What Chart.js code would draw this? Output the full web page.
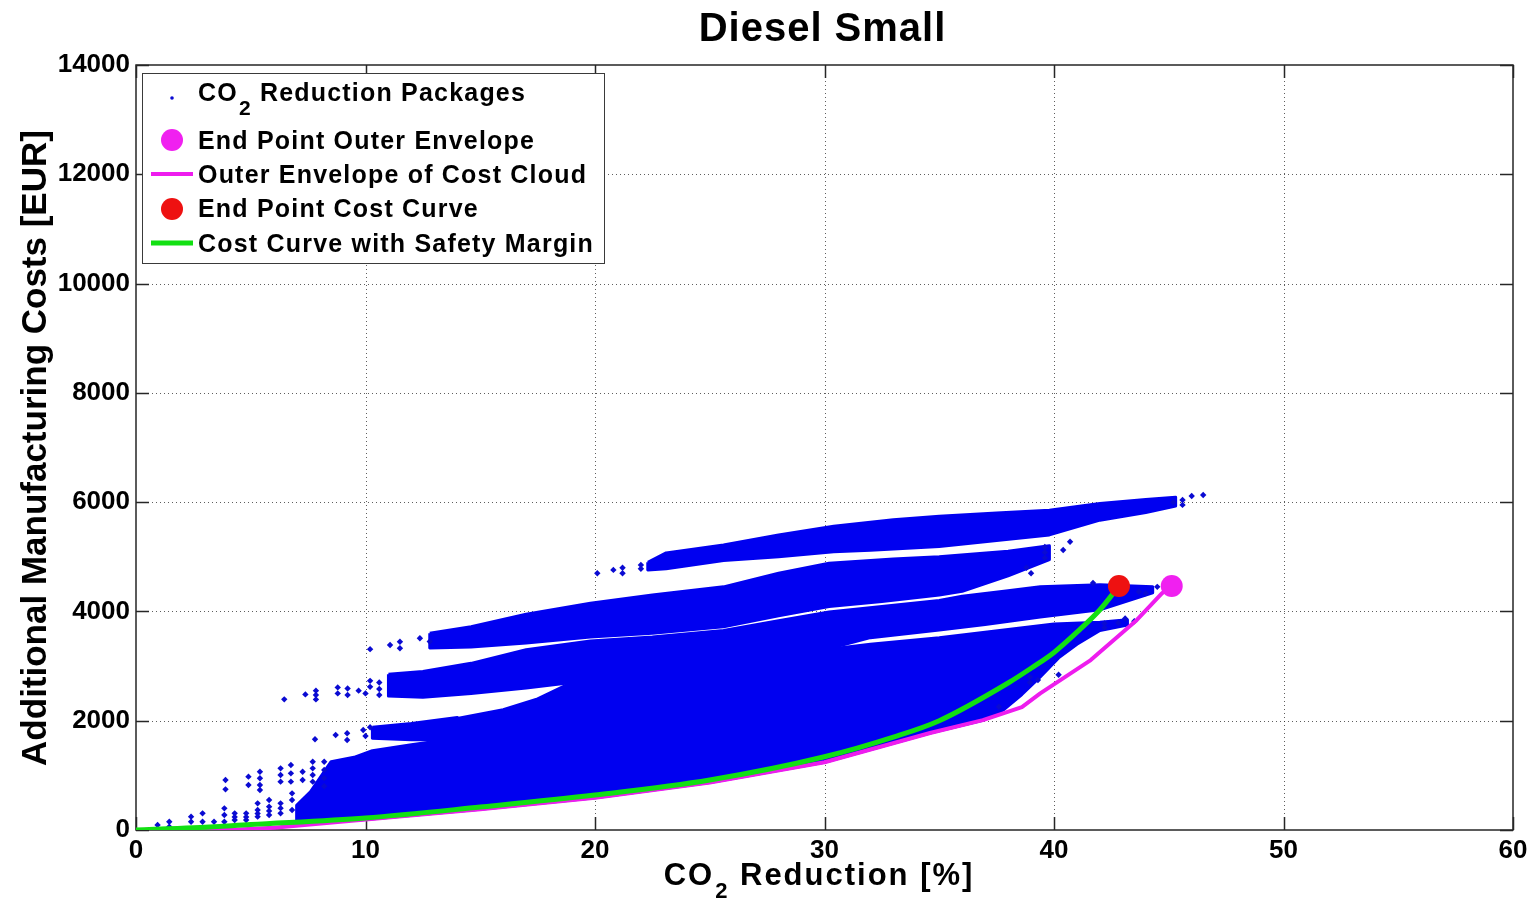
<!DOCTYPE html>
<html>
<head>
<meta charset="utf-8">
<title>Diesel Small</title>
<script src="https://cdn.jsdelivr.net/npm/chart.js@4.4.1/dist/chart.umd.min.js"></script>
<style>
  html, body { margin: 0; padding: 0; background: #ffffff; }
  #costChart { display: block; }
</style>
</head>
<body>
<canvas id="costChart" width="1539" height="911"></canvas>
<script>
// axis ticks
const xTickValues = [0, 10, 20, 30, 40, 50, 60];
const yTickValues = [0, 2000, 4000, 6000, 8000, 10000, 12000, 14000];

// outer envelope of the cost cloud
const envelopeX = [0, 4, 6, 10, 15, 20, 25, 30, 34.6, 36.9, 38.6, 39.4, 41.6, 43.6, 44.7, 45.13];
const envelopeY = [0, 0, 40, 190, 380, 590, 870, 1240, 1775, 2010, 2250, 2500, 3110, 3840, 4330, 4465];

// cost curve with safety margin
const costCurveX = [0, 2.5, 5, 10, 15, 20, 25, 30, 33, 35, 38, 39, 40, 41, 42, 42.83];
const costCurveY = [0, 40, 100, 220, 420, 640, 915, 1340, 1700, 2000, 2690, 2960, 3250, 3620, 4030, 4465];

// end points
const envelopeEnd = [45.13, 4465];
const costCurveEnd = [42.83, 4465];

// dense packages, outlined as bands [x, y]
const bandA = [
  [22.3, 4900], [23.1, 5070], [25.6, 5215], [28, 5400], [30.4, 5560], [33, 5680], [35, 5740],
  [37.5, 5800], [39.8, 5850], [42, 5975], [44, 6050], [45.3, 6090],
  [45.3, 5930], [44, 5810], [42, 5670], [39.8, 5400], [37.5, 5300], [35, 5190], [32, 5120],
  [30.4, 5090], [28, 5000], [25.6, 4930], [23.1, 4780], [22.3, 4760]
];
const bandB = [
  [12.8, 3600], [14.6, 3720], [17, 3950], [19.8, 4150], [22.5, 4300], [25.6, 4450], [28, 4700],
  [30.2, 4880], [33, 4960], [35, 5000], [38, 5100], [39.8, 5200],
  [39.8, 4950], [38, 4650], [36, 4370], [35, 4300], [32.5, 4180], [30.2, 4090], [28, 3920],
  [25.6, 3720], [22.5, 3600], [19.8, 3530], [17, 3420], [14.6, 3350], [12.8, 3330]
];
const bandC = [
  [11, 2850], [12.5, 2900], [14.6, 3050], [17, 3300], [19.8, 3460], [22.5, 3530], [25.6, 3650],
  [28, 3830], [30.2, 3990], [32.5, 4090], [35, 4200], [36, 4280], [38, 4380], [39.4, 4450],
  [42, 4490], [44.3, 4450],
  [44.3, 4340], [42, 4030], [39.4, 3900], [37, 3760], [35, 3660], [32, 3520], [30, 3300],
  [25, 3000], [20, 2750], [17, 2600], [14.6, 2500], [12.5, 2430], [11, 2450]
];
const bandD = [
  [10.3, 1880], [12, 1950], [14, 2060],
  [14, 1650], [12, 1650], [10.3, 1680]
];
const bandMain = [
  [7, 110], [10, 190], [15, 380], [20, 590], [25, 870], [30, 1240], [34.6, 1775], [36.9, 2010],
  [37.8, 2200], [38.6, 2480], [39.4, 2800], [40.2, 3150], [41, 3400], [42, 3650], [43.2, 3750],
  [43.2, 3850], [42, 3800], [40, 3770], [37, 3620], [35, 3520], [32, 3400], [30, 3300],
  [25, 3050], [20, 2820], [19, 2700], [17.5, 2400], [16, 2200], [14, 2040], [13, 1620],
  [12, 1560], [10.3, 1450], [9.5, 1330], [8.5, 1250], [7.6, 700], [7, 450]
];

// sparse packages outside the bands [x, y]
const sparsePackages = [
  [0.94, 92], [1.45, 152], [1.45, 60], [2.4, 244], [2.4, 152], [2.9, 305], [2.9, 152], [3.4, 152],
  [3.85, 396], [3.85, 274], [3.85, 152], [4.3, 305], [4.3, 183], [4.8, 305], [4.8, 183],
  [5.3, 488], [5.3, 366], [5.3, 244], [5.8, 549], [5.8, 427], [5.8, 274], [6.3, 488], [6.3, 305],
  [6.8, 671], [6.8, 549], [6.8, 366], [6.3, 400], [5.8, 350], [5.3, 300], [4.8, 240], [4.3, 240],
  [3.9, 915], [3.9, 744], [4.9, 976], [4.9, 824], [5.4, 1067], [5.4, 946], [5.4, 824], [5.4, 732],
  [6.3, 1128], [6.3, 1006], [6.3, 885], [6.75, 1190], [6.75, 1037], [6.75, 885], [7.26, 1067],
  [7.26, 915], [7.7, 1250], [7.7, 1128], [7.7, 1006], [7.7, 885], [8.2, 1250], [8.2, 1100],
  [8.2, 950], [8.2, 800],
  [7.8, 1660], [8.7, 1739], [9.2, 1770], [9.2, 1647], [9.9, 1830], [10.0, 1720], [10.2, 1880],
  [6.46, 2391], [7.38, 2482], [7.84, 2550], [7.84, 2470], [7.84, 2390], [8.79, 2610], [8.79, 2500],
  [9.22, 2590], [9.22, 2470], [9.7, 2550], [10.0, 2500], [10.2, 2620], [10.2, 2730], [10.6, 2700],
  [10.6, 2580], [10.6, 2470],
  [10.2, 3310], [11.07, 3386], [11.5, 3446], [11.5, 3325], [12.37, 3510], [12.8, 3450],
  [20.1, 4700], [20.8, 4760], [21.2, 4800], [21.2, 4700], [22, 4850], [22, 4780],
  [45.2, 6000], [45.6, 6040], [45.6, 5950], [46.0, 6112], [46.5, 6130],
  [39.6, 5180], [39.6, 5080], [39.6, 4980], [40.4, 5124], [40.7, 5276], [38.8, 4800], [39.0, 4700],
  [41.7, 4520], [43.7, 4360], [44.0, 4330], [44.5, 4450], [44.9, 4400],
  [42.2, 3780], [42.2, 3700], [42.8, 3790], [43.1, 3870], [43.5, 3820],
  [38.95, 2800], [38.95, 2700], [39.3, 2745], [37.6, 2256], [40.2, 2840]
];

const BLUE_FILL = '#0000f0';
const BLUE_DOT = '#0a0ad2';
const FONT = '"Liberation Sans", Arial, Helvetica, sans-serif';

function toPoints(pairs) {
  return pairs.map(p => ({ x: p[0], y: p[1] }));
}
function zipXY(xs, ys) {
  return xs.map((x, i) => ({ x: x, y: ys[i] }));
}
function bandDataset(pairs) {
  const closed = pairs.concat([pairs[0]]);
  return {
    data: toPoints(closed),
    showLine: true,
    fill: 'shape',
    backgroundColor: BLUE_FILL,
    borderColor: BLUE_FILL,
    borderWidth: 3,
    borderJoinStyle: 'round',
    pointRadius: 0,
    tension: 0
  };
}

// bold text with an optional "CO2" subscript
function drawRich(ctx, text, x, y, size, spacing, subSize, subDrop, measureOnly) {
  ctx.letterSpacing = spacing + 'px';
  const main = 'bold ' + size + 'px ' + FONT;
  const sub = 'bold ' + subSize + 'px ' + FONT;
  const idx = text.indexOf('CO2');
  let cx = x;
  const put = (str, font, dy) => {
    ctx.font = font;
    if (!measureOnly) ctx.fillText(str, cx, y + dy);
    cx += ctx.measureText(str).width;
  };
  if (idx < 0) {
    put(text, main, 0);
  } else {
    put(text.slice(0, idx) + 'CO', main, 0);
    cx += 1;
    put('2', sub, subDrop);
    put(text.slice(idx + 3), main, 0);
  }
  return cx - x;
}

// dotted grid, box and inward ticks
const matlabAxes = {
  id: 'matlabAxes',
  beforeDatasetsDraw(chart) {
    const { ctx, chartArea: a, scales: { x, y } } = chart;
    ctx.save();
    ctx.lineWidth = 1;
    ctx.strokeStyle = 'rgba(40,40,40,0.75)';
    ctx.setLineDash([1, 3]);
    xTickValues.forEach(v => {
      const px = Math.round(x.getPixelForValue(v)) + 0.5;
      if (px < a.left + 2 || px > a.right - 2) return;
      ctx.beginPath(); ctx.moveTo(px, a.top); ctx.lineTo(px, a.bottom); ctx.stroke();
    });
    yTickValues.forEach(v => {
      const py = Math.round(y.getPixelForValue(v)) + 0.5;
      if (py < a.top + 2 || py > a.bottom - 2) return;
      ctx.beginPath(); ctx.moveTo(a.left, py); ctx.lineTo(a.right, py); ctx.stroke();
    });
    ctx.setLineDash([]);
    ctx.strokeStyle = '#262626';
    ctx.lineWidth = 1.5;
    ctx.strokeRect(a.left, a.top, a.right - a.left, a.bottom - a.top);
    const tick = 13;
    ctx.beginPath();
    xTickValues.forEach(v => {
      const px = Math.round(x.getPixelForValue(v)) + 0.5;
      ctx.moveTo(px, a.bottom); ctx.lineTo(px, a.bottom - tick);
      ctx.moveTo(px, a.top); ctx.lineTo(px, a.top + tick);
    });
    yTickValues.forEach(v => {
      const py = Math.round(y.getPixelForValue(v)) + 0.5;
      ctx.moveTo(a.left, py); ctx.lineTo(a.left + tick, py);
      ctx.moveTo(a.right, py); ctx.lineTo(a.right - tick, py);
    });
    ctx.stroke();
    ctx.restore();
  }
};

// title, axis titles and the legend box inside the axes
const matlabText = {
  id: 'matlabText',
  afterDraw(chart) {
    const { ctx, chartArea: a } = chart;
    ctx.save();
    ctx.fillStyle = '#000';
    ctx.textAlign = 'left';
    ctx.textBaseline = 'alphabetic';

    // title
    const title = 'Diesel Small';
    let w = drawRich(ctx, title, 0, 0, 40, 1, 28, 0, true);
    drawRich(ctx, title, (a.left + a.right) / 2 - w / 2 - 2, 41, 40, 1, 28, 0, false);

    // x axis title
    const xTitle = 'CO2 Reduction [%]';
    w = drawRich(ctx, xTitle, 0, 0, 31, 2, 22, 13, true);
    drawRich(ctx, xTitle, 819 - w / 2, 885, 31, 2, 22, 13, false);

    // y axis title
    const yTitle = 'Additional Manufacturing Costs [EUR]';
    ctx.save();
    ctx.translate(46, 448);
    ctx.rotate(-Math.PI / 2);
    w = drawRich(ctx, yTitle, 0, 0, 35, 0, 24, 0, true);
    drawRich(ctx, yTitle, -w / 2, 0, 35, 0, 24, 0, false);
    ctx.restore();

    // legend
    const left = a.left + 6, top = a.top + 8, bw = 462, bh = 190;
    ctx.fillStyle = '#fff';
    ctx.fillRect(left, top, bw, bh);
    ctx.strokeStyle = '#3a3a3a';
    ctx.lineWidth = 1;
    ctx.strokeRect(left + 0.5, top + 0.5, bw, bh);
    const baselines = [28, 76, 110, 144, 179];
    const markerY = [25, 67, 101, 136, 170];
    const items = chart.data.datasets
      .filter(d => d.legendRow !== undefined)
      .sort((p, q) => p.legendRow - q.legendRow);
    items.forEach((d, i) => {
      const my = top + markerY[i];
      if (d.showLine) {
        ctx.strokeStyle = d.borderColor;
        ctx.lineWidth = d.borderWidth;
        ctx.beginPath(); ctx.moveTo(left + 9, my); ctx.lineTo(left + 51, my); ctx.stroke();
      } else {
        ctx.fillStyle = d.pointBackgroundColor;
        ctx.beginPath();
        ctx.arc(left + 30, my, d.legendRadius || d.pointRadius, 0, Math.PI * 2);
        ctx.fill();
      }
      ctx.fillStyle = '#000';
      drawRich(ctx, d.label, left + 56, top + baselines[i], 25, 1.2, 21, 14, false);
    });
    ctx.restore();
  }
};

const datasets = [
  {
    label: 'End Point Cost Curve',
    legendRow: 3,
    data: toPoints([costCurveEnd]),
    showLine: false,
    pointRadius: 11,
    pointBackgroundColor: '#ee1111',
    pointBorderWidth: 0
  },
  {
    label: 'End Point Outer Envelope',
    legendRow: 1,
    data: toPoints([envelopeEnd]),
    showLine: false,
    pointRadius: 11,
    pointBackgroundColor: '#f020f0',
    pointBorderWidth: 0
  },
  {
    label: 'Cost Curve with Safety Margin',
    legendRow: 4,
    data: zipXY(costCurveX, costCurveY),
    showLine: true,
    borderColor: '#12e012',
    borderWidth: 5,
    pointRadius: 0,
    cubicInterpolationMode: 'monotone',
    borderCapStyle: 'round',
    fill: false
  },
  {
    label: 'Outer Envelope of Cost Cloud',
    legendRow: 2,
    data: zipXY(envelopeX, envelopeY),
    showLine: true,
    borderColor: '#ee1cee',
    borderWidth: 4,
    pointRadius: 0,
    tension: 0,
    borderJoinStyle: 'round',
    fill: false
  },
  {
    label: 'CO2 Reduction Packages',
    legendRow: 0,
    legendRadius: 1.8,
    data: toPoints(sparsePackages),
    showLine: false,
    pointStyle: 'rectRot',
    pointRadius: 3.2,
    pointBackgroundColor: BLUE_DOT,
    pointBorderWidth: 0
  },
  bandDataset(bandA),
  bandDataset(bandB),
  bandDataset(bandC),
  bandDataset(bandD),
  bandDataset(bandMain)
];

const tickFont = { family: FONT, size: 26, weight: 'bold' };

new Chart(document.getElementById('costChart'), {
  type: 'line',
  data: { datasets: datasets },
  plugins: [matlabAxes, matlabText],
  options: {
    responsive: false,
    animation: false,
    events: [],
    devicePixelRatio: 1,
    layout: { padding: { top: 65, right: 26, left: 0, bottom: 0 } },
    plugins: {
      legend: { display: false },
      tooltip: { enabled: false },
      title: { display: false }
    },
    scales: {
      x: {
        type: 'linear',
        min: 0,
        max: 60,
        grid: { display: false, drawTicks: false },
        border: { display: false },
        ticks: {
          color: '#000', font: tickFont, padding: 5, maxRotation: 0, autoSkip: false,
          callback: v => String(v)
        },
        afterBuildTicks: s => { s.ticks = xTickValues.map(v => ({ value: v })); },
        afterFit: s => { s.height = 81; }
      },
      y: {
        type: 'linear',
        min: 0,
        max: 14000,
        grid: { display: false, drawTicks: false },
        border: { display: false },
        ticks: { color: '#000', font: tickFont, padding: 6, autoSkip: false, callback: v => String(v) },
        afterBuildTicks: s => { s.ticks = yTickValues.map(v => ({ value: v })); },
        afterFit: s => { s.width = 136; }
      }
    }
  }
});
</script>
</body>
</html>
